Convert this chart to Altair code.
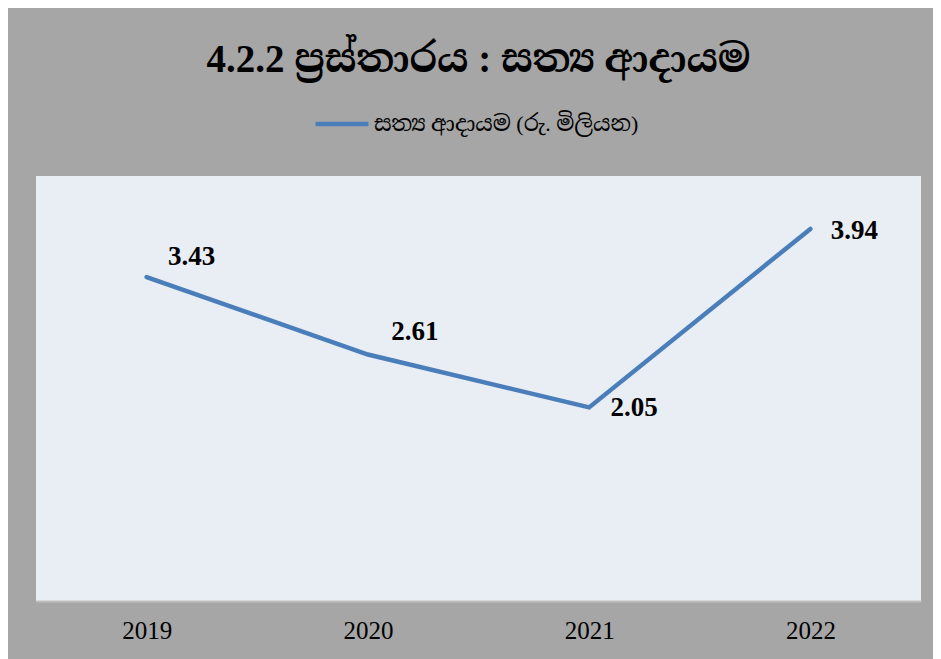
import altair as alt
import pandas as pd

years = ["2019", "2020", "2021", "2022"]
values = [3.43, 2.61, 2.05, 3.94]
series_name = "සත්‍ය ආදායම (රු. මිලියන)"
title_text = "4.2.2 ප්‍රස්තාරය : සත්‍ය ආදායම"

df = pd.DataFrame({"year": years, "value": values, "series": [series_name] * len(years)})

SERIF = "Liberation Serif, Noto Serif Sinhala, Noto Sans Sinhala, serif"
LINE_COLOR = "#4A7EBB"

x_enc = alt.X("year:N", sort=years,
              scale=alt.Scale(type="point", padding=0.5),
              axis=alt.Axis(title=None, labelAngle=0, labelFont=SERIF, labelFontSize=25,
                            labelColor="black", labelPadding=17, ticks=False, grid=False,
                            domainColor="#BFBFBF", domainWidth=2))
y_enc = alt.Y("value:Q", scale=alt.Scale(domain=[0, 4.5], nice=False, zero=True), axis=None)

base = alt.Chart(df)

line = base.mark_line(strokeWidth=4.5, strokeCap="round", strokeJoin="miter").encode(
    x=x_enc,
    y=y_enc,
    color=alt.Color("series:N", scale=alt.Scale(range=[LINE_COLOR]),
                    legend=alt.Legend(title=None, orient="none", legendX=277, legendY=-81,
                                      symbolType="stroke", symbolSize=2809, symbolStrokeWidth=4.5,
                                      labelFont=SERIF, labelFontSize=22, labelColor="black",
                                      labelOffset=3, labelLimit=600)),
)

offsets = {"2019": (45, -20), "2020": (47, -23), "2021": (45, 1), "2022": (44, 2)}
labels = []
for yr in years:
    dx, dy = offsets[yr]
    labels.append(
        base.transform_filter(alt.datum.year == yr).mark_text(
            font=SERIF, fontSize=27, fontWeight="bold", color="black",
            align="center", baseline="middle", dx=dx, dy=dy
        ).encode(x=x_enc, y=y_enc, text=alt.Text("value:Q", format=".2f"))
    )

chart = alt.layer(line, *labels).properties(
    width=885,
    height=425,
    padding={"left": 28, "top": 168, "right": 12, "bottom": 58},
    autosize=alt.AutoSizeParams(type="none"),
    background="#A6A6A6",
    title=alt.TitleParams(text=title_text, font=SERIF, fontSize=39, fontWeight="bold",
                          color="black", anchor="middle", offset=15),
).configure_view(fill="#E9EDF4", stroke=None)

chart.save("out.html", embed_options={"renderer": "svg", "actions": False})
